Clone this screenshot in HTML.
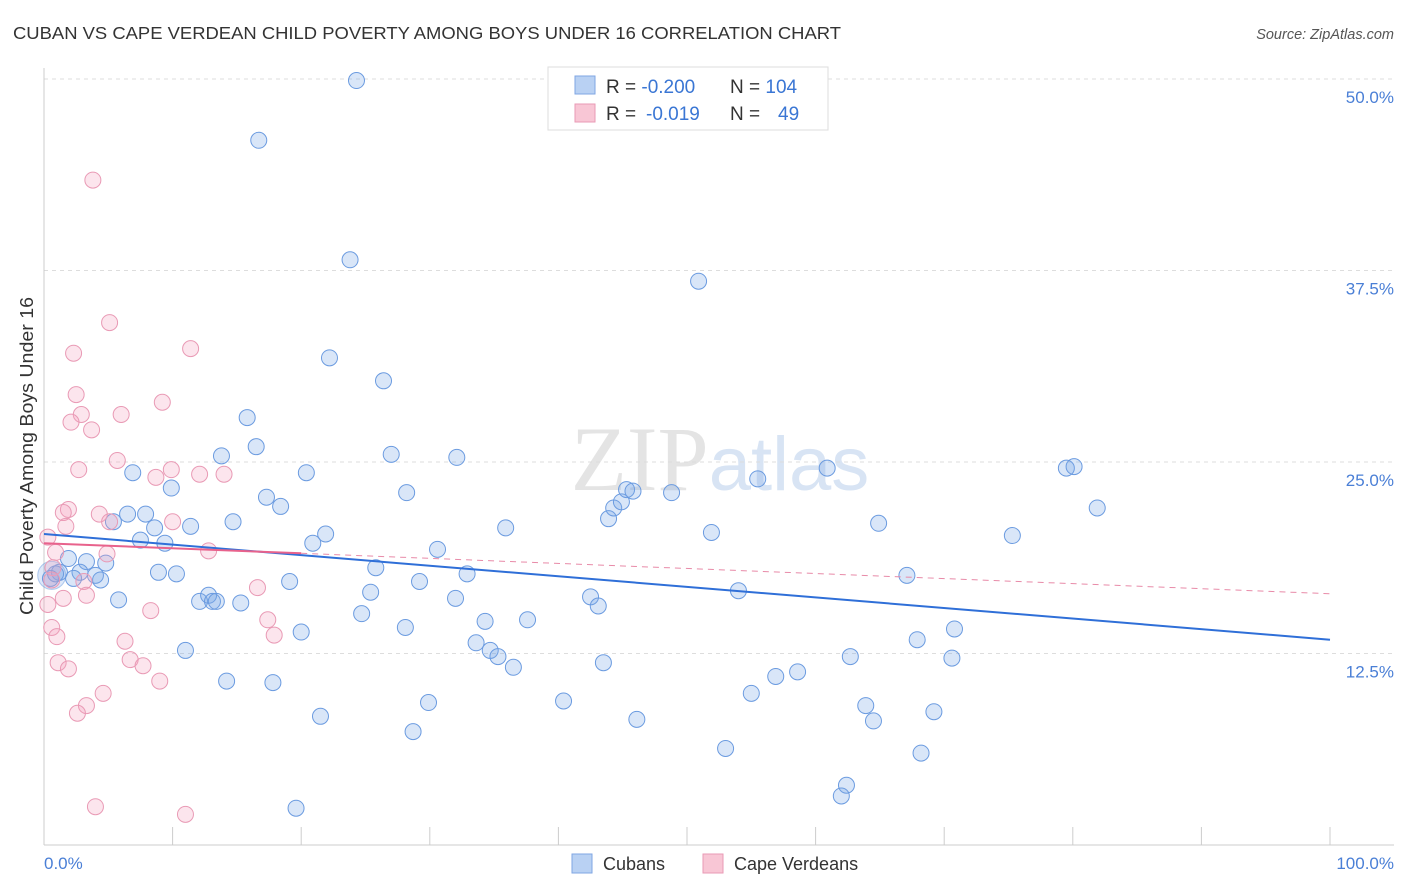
<!DOCTYPE html>
<html><head><meta charset="utf-8">
<style>
body{margin:0;background:#fff;font-family:"Liberation Sans",sans-serif;}
svg{display:block}
</style></head>
<body>
<svg id="chart" width="1406" height="892">
<text x="13" y="39" font-size="17.5" fill="#333" textLength="828" lengthAdjust="spacingAndGlyphs">CUBAN VS CAPE VERDEAN CHILD POVERTY AMONG BOYS UNDER 16 CORRELATION CHART</text>
<text x="1394" y="39" font-size="14.5" fill="#555" font-style="italic" text-anchor="end">Source: ZipAtlas.com</text>
<text x="720" y="490" font-size="92" fill="#e4e4e4" text-anchor="middle" font-family="Liberation Serif, serif">ZIP<tspan fill="#d8e4f4" font-family="Liberation Sans, sans-serif" font-size="76">atlas</tspan></text>
<g id="grid"></g>
<g id="axes"></g>
<g id="marks"></g>
<text transform="translate(33,456) rotate(-90)" font-size="18" fill="#333" text-anchor="middle" textLength="318" lengthAdjust="spacingAndGlyphs">Child Poverty Among Boys Under 16</text>
<text x="44" y="869" font-size="17" fill="#4a7fd6">0.0%</text>
<text x="1394" y="869" font-size="17" fill="#4a7fd6" text-anchor="end">100.0%</text>
<g>
<rect x="548" y="67" width="280" height="63" fill="#fff" stroke="#ddd"/>
<rect x="575" y="76" width="20" height="18" fill="#b9d1f3" stroke="#7fa6e3"/>
<rect x="575" y="104" width="20" height="18" fill="#f8c6d5" stroke="#e99ab5"/>
<text x="606" y="93" font-size="19" fill="#333">R = <tspan fill="#3a76d4">-0.200</tspan><tspan x="730">N = </tspan><tspan fill="#3a76d4">104</tspan></text>
<text x="606" y="120" font-size="19" fill="#333">R = <tspan fill="#3a76d4" x="646">-0.019</tspan><tspan x="730">N = </tspan><tspan fill="#3a76d4" x="778">49</tspan></text>
</g>
<g>
<rect x="572" y="854" width="20" height="19" fill="#b9d1f3" stroke="#7fa6e3"/>
<text x="603" y="870" font-size="18" fill="#333">Cubans</text>
<rect x="703" y="854" width="20" height="19" fill="#f8c6d5" stroke="#e99ab5"/>
<text x="734" y="870" font-size="18" fill="#333">Cape Verdeans</text>
</g>
</svg>
<script>
const yTicks=[12.5,25,37.5,50];
const yTickLabels=["12.5%","25.0%","37.5%","50.0%"];
const xTicks=[0,10,20,30,40,50,60,70,80,90,100];
const cubanX=[24.3,16.7,23.8,50.9,22.2,26.4,15.8,16.5,13.8,27.0,32.1,20.4,6.9,9.9,17.3,28.2,18.4,6.5,7.9,5.4,14.7,11.4,8.6,21.9,35.9,43.9,44.3,44.9,45.3,45.8,48.8,51.9,55.5,60.9,64.9,75.3,79.5,80.1,81.9,7.5,9.4,20.9,30.6,1.9,3.3,4.8,1.2,2.8,4.0,0.5,2.3,4.4,0.9,8.9,10.3,25.8,32.9,19.1,29.2,67.1,54.0,5.8,12.1,12.8,13.1,13.4,15.3,25.4,32.0,42.5,43.1,24.7,34.3,37.6,28.1,20.0,33.6,34.7,35.3,36.5,43.5,11.0,14.2,17.8,62.7,67.9,70.8,70.6,58.6,56.9,29.9,40.4,55.0,63.9,69.2,64.5,46.1,21.5,28.7,53.0,68.2,62.4,62.0,19.6];
const cubanY=[49.9,46.0,38.2,36.8,31.8,30.3,27.9,26.0,25.4,25.5,25.3,24.3,24.3,23.3,22.7,23.0,22.1,21.6,21.6,21.1,21.1,20.8,20.7,20.3,20.7,21.3,22.0,22.4,23.2,23.1,23.0,20.4,23.9,24.6,21.0,20.2,24.6,24.7,22.0,19.9,19.7,19.7,19.3,18.7,18.5,18.4,17.8,17.8,17.6,17.4,17.4,17.3,17.7,17.8,17.7,18.1,17.7,17.2,17.2,17.6,16.6,16.0,15.9,16.3,15.9,15.9,15.8,16.5,16.1,16.2,15.6,15.1,14.6,14.7,14.2,13.9,13.2,12.7,12.3,11.6,11.9,12.7,10.7,10.6,12.3,13.4,14.1,12.2,11.3,11.0,9.3,9.4,9.9,9.1,8.7,8.1,8.2,8.4,7.4,6.3,6.0,3.9,3.2,2.4];
const capeX=[3.8,5.1,2.3,11.4,2.5,9.2,2.9,6.0,2.1,3.7,5.7,2.7,9.9,12.1,14.0,8.7,1.9,1.5,4.3,5.1,10.0,1.7,0.3,0.9,4.9,12.8,0.7,0.6,3.1,16.6,1.5,0.3,3.3,8.3,17.4,0.6,1.0,6.3,17.9,6.7,1.1,7.7,1.9,9.0,4.6,3.3,2.6,4.0,11.0];
const capeY=[43.4,34.1,32.1,32.4,29.4,28.9,28.1,28.1,27.6,27.1,25.1,24.5,24.5,24.2,24.2,24.0,21.9,21.7,21.6,21.1,21.1,20.8,20.1,19.1,19.0,19.2,18.1,17.3,17.2,16.8,16.1,15.7,16.3,15.3,14.7,14.2,13.6,13.3,13.7,12.1,11.9,11.7,11.5,10.7,9.9,9.1,8.6,2.5,2.0];
const cubanTrend=[20.3,13.4];
const capeTrend=[19.7,16.4];

const NS="http://www.w3.org/2000/svg";
const X0=44,X1=1330,Y0=845,YTOP=79;
const sx=v=>X0+(X1-X0)*v/100;
const sy=v=>Y0-(Y0-YTOP)*v/50;
function mk(tag,attrs,parent){const e=document.createElementNS(NS,tag);for(const k in attrs)e.setAttribute(k,attrs[k]);parent.appendChild(e);return e;}
const grid=document.getElementById('grid'),axes=document.getElementById('axes'),marks=document.getElementById('marks');
yTicks.forEach((t,i)=>{
  const l=mk('line',{x1:X0,x2:1394,y1:sy(t),y2:sy(t),stroke:'#ddd','stroke-dasharray':'4,4'},grid);
  
  
  const tx=mk('text',{x:1394,y:sy(t)+24,'font-size':17,fill:'#4a7fd6','text-anchor':'end'},grid);
  tx.textContent=yTickLabels[i];
  
  
});
const ya=mk('line',{x1:X0,x2:X0,y1:68,y2:Y0,stroke:'#ccc'},axes);


const xa=mk('line',{x1:X0,x2:1394,y1:Y0,y2:Y0,stroke:'#ccc'},axes);


xTicks.forEach(t=>{
  const l=mk('line',{x1:sx(t),x2:sx(t),y1:Y0,y2:Y0-18,stroke:'#ccc'},axes);
  
  
});
const bigC=mk('circle',{cx:sx(0.6),cy:sy(17.6),r:14,fill:'rgba(120,165,230,0.25)',stroke:'rgba(107,155,224,0.5)'},marks);


cubanX.forEach((x,i)=>{
  const c=mk('circle',{cx:sx(x),cy:sy(cubanY[i]),r:8,fill:'rgba(120,165,230,0.28)',stroke:'#6b9be0','stroke-width':1},marks);
  
  
});
capeX.forEach((x,i)=>{
  const c=mk('circle',{cx:sx(x),cy:sy(capeY[i]),r:8,fill:'rgba(244,160,190,0.28)',stroke:'#e99ab5','stroke-width':1},marks);
  
  
});
const bt=mk('line',{x1:sx(0),y1:sy(cubanTrend[0]),x2:sx(100),y2:sy(cubanTrend[1]),stroke:'#2f6fd8','stroke-width':2},marks);


const pAt=v=>capeTrend[0]+(capeTrend[1]-capeTrend[0])*v/100;
const pd=mk('line',{x1:sx(20),y1:sy(pAt(20)),x2:sx(100),y2:sy(capeTrend[1]),stroke:'#e88aa8','stroke-width':1,'stroke-dasharray':'6,5'},marks);


const ps=mk('line',{x1:sx(0),y1:sy(capeTrend[0]),x2:sx(20),y2:sy(pAt(20)),stroke:'#e8628c','stroke-width':2},marks);


</script>
</body></html>
